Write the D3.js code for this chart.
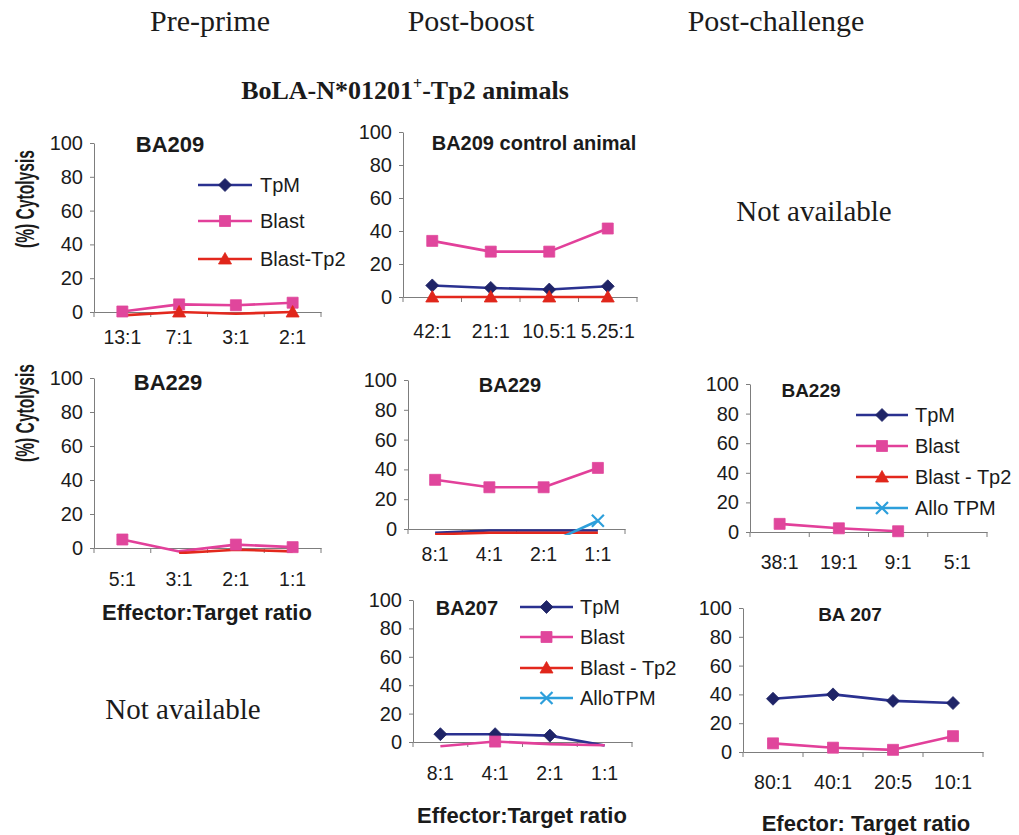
<!DOCTYPE html>
<html>
<head>
<meta charset="utf-8">
<script src="https://cdn.jsdelivr.net/npm/d3@7"></script>
<style>
  body { margin: 0; background: #ffffff; }
  svg { display: block; }
</style>
</head>
<body>
<svg id="chart" width="1019" height="835"></svg>
<script>
// ---------- data (% cytolysis per effector:target ratio) ----------
const yTicks = [0, 20, 40, 60, 80, 100];

// Pre-prime, BA209
const prePrimeBA209Ratios   = ["13:1", "7:1", "3:1", "2:1"];
const prePrimeBA209Blast    = [0.3, 4.5, 4, 5.5];
const prePrimeBA209BlastTp2 = [-2, 0, -1, 0];

// Post-boost, BA209 control animal
const postBoostBA209Ratios   = ["42:1", "21:1", "10.5:1", "5.25:1"];
const postBoostBA209TpM      = [7, 5.5, 4.5, 6.5];
const postBoostBA209Blast    = [34, 27.5, 27.5, 41.5];
const postBoostBA209BlastTp2 = [0, 0, 0, 0];

// Pre-prime, BA229
const prePrimeBA229Ratios   = ["5:1", "3:1", "2:1", "1:1"];
const prePrimeBA229Blast    = [5, -2, 2, 0.5];
const prePrimeBA229BlastTp2 = [null, -3, -1, -2];

// Post-boost, BA229
const postBoostBA229Ratios   = ["8:1", "4:1", "2:1", "1:1"];
const postBoostBA229TpM      = [-2.5, -1, -1, -1];
const postBoostBA229Blast    = [33, 28, 28, 41];
const postBoostBA229BlastTp2 = [-3.5, -2.5, -2.5, -2.5];
const postBoostBA229AlloTPM  = [null, null, -11, 5.5];

// Post-boost, BA207
const postBoostBA207Ratios = ["8:1", "4:1", "2:1", "1:1"];
const postBoostBA207TpM    = [5.5, 5.5, 4.5, -2.5];
const postBoostBA207Blast  = [-3, 0.3, -1.5, -2.3];

// Post-challenge, BA229
const postChallengeBA229Ratios = ["38:1", "19:1", "9:1", "5:1"];
const postChallengeBA229Blast  = [5.5, 2.5, 0.5, null];

// Post-challenge, BA 207
const postChallengeBA207Ratios = ["80:1", "40:1", "20:5", "10:1"];
const postChallengeBA207TpM    = [37, 40, 35.5, 34];
const postChallengeBA207Blast  = [6, 3, 1.5, 11];

// Legend labels
const legendLabelsA = ["TpM", "Blast", "Blast-Tp2"];
const legendLabelsB = ["TpM", "Blast", "Blast - Tp2", "AlloTPM"];
const legendLabelsC = ["TpM", "Blast", "Blast - Tp2", "Allo TPM"];
const legendKinds   = ["tpm", "blast", "tp2", "allo"];

// Column headings
const columnHeadings = ["Pre-prime", "Post-boost", "Post-challenge"];

// ---------- styles ----------
const style = {
  tpm:   { line: "#2a3190", fill: "#1f2467", shape: "diamond" },
  blast: { line: "#e2409a", fill: "#e0469c", shape: "square" },
  tp2:   { line: "#e3281d", fill: "#e0261b", shape: "triangle" },
  allo:  { line: "#2d9fdb", fill: "#2d9fdb", shape: "cross" }
};
const SANS = "'Liberation Sans', Arial, sans-serif";
const SERIF = "'Liberation Serif', 'Times New Roman', serif";
const AXIS = "#7d7d7d";
const INK = "#1b1b1b";

// ---------- panels ----------
const panels = [
  { id: "p1", ratios: prePrimeBA209Ratios, title: "BA209",
    series: [["blast", prePrimeBA209Blast], ["tp2", prePrimeBA209BlastTp2]],
    box: { x0: 94, x1: 321, yTop: 143, yBot: 312 }, tickPad: 19,
    titlePos: [170, 144, 22],
    legend: { labels: legendLabelsA, lx0: 198, lx1: 252, tx: 260, rows: [185, 221, 259] } },
  { id: "p2", ratios: postBoostBA209Ratios, title: "BA209 control animal",
    series: [["tpm", postBoostBA209TpM], ["blast", postBoostBA209Blast], ["tp2", postBoostBA209BlastTp2]],
    box: { x0: 403, x1: 637, yTop: 132, yBot: 297 }, tickPad: 28,
    titlePos: [534, 143, 20] },
  { id: "p3", ratios: prePrimeBA229Ratios, title: "BA229",
    series: [["blast", prePrimeBA229Blast], ["tp2", prePrimeBA229BlastTp2]],
    box: { x0: 94, x1: 321, yTop: 378, yBot: 548 }, tickPad: 25,
    titlePos: [168, 382, 22],
    xTitle: ["Effector:Target ratio", 207, 612] },
  { id: "p4", ratios: postBoostBA229Ratios, title: "BA229",
    series: [["tpm", postBoostBA229TpM], ["blast", postBoostBA229Blast],
             ["tp2", postBoostBA229BlastTp2], ["allo", postBoostBA229AlloTPM]],
    box: { x0: 408, x1: 625, yTop: 380, yBot: 529 }, tickPad: 19,
    titlePos: [510, 385, 20] },
  { id: "p5", ratios: postBoostBA207Ratios, title: "BA207",
    series: [["tpm", postBoostBA207TpM], ["blast", postBoostBA207Blast]],
    box: { x0: 413, x1: 632, yTop: 600, yBot: 742 }, tickPad: 25,
    titlePos: [467, 608, 20],
    xTitle: ["Effector:Target ratio", 522, 815],
    legend: { labels: legendLabelsB, lx0: 520, lx1: 573, tx: 580, rows: [607, 637, 668, 698] } },
  { id: "p6", ratios: postChallengeBA229Ratios, title: "BA229",
    series: [["blast", postChallengeBA229Blast]],
    box: { x0: 750, x1: 987, yTop: 384, yBot: 532 }, tickPad: 24,
    titlePos: [811, 390, 19],
    legend: { labels: legendLabelsC, lx0: 856, lx1: 908, tx: 915, rows: [415, 446, 477, 508] } },
  { id: "p7", ratios: postChallengeBA207Ratios, title: "BA 207",
    series: [["tpm", postChallengeBA207TpM], ["blast", postChallengeBA207Blast]],
    box: { x0: 743, x1: 983, yTop: 608, yBot: 752 }, tickPad: 24,
    titlePos: [850, 614, 19],
    xTitle: ["Efector: Target ratio", 866, 823] }
];

const svg = d3.select("#chart");
const defs = svg.append("defs");

// marker shapes centred on (0,0)
function markerPath(shape) {
  switch (shape) {
    case "diamond":  return "M0,-6.5L6.5,0L0,6.5L-6.5,0Z";
    case "square":   return "M-5.5,-5.5H5.5V5.5H-5.5Z";
    case "triangle": return "M0,-6.5L6.5,5L-6.5,5Z";
    case "cross":    return "M-6,-6L6,6M6,-6L-6,6";
  }
}
function drawMarker(g, kind, cx, cy) {
  const s = style[kind];
  const p = g.append("path")
    .attr("d", markerPath(s.shape))
    .attr("transform", `translate(${cx},${cy})`);
  if (s.shape === "cross") {
    p.attr("fill", "none").attr("stroke", s.line).attr("stroke-width", 2.2);
  } else {
    p.attr("fill", s.fill).attr("stroke", s.fill).attr("stroke-width", 0.8);
  }
}

panels.forEach(p => {
  const { x0, x1, yTop, yBot } = p.box;
  const g = svg.append("g").attr("class", "panel " + p.id);

  const x = d3.scaleBand().domain(p.ratios).range([x0, x1]);
  const y = d3.scaleLinear().domain([0, 100]).range([yBot, yTop]);

  // y axis
  const yAx = g.append("g")
    .attr("transform", `translate(${x0},0)`)
    .call(d3.axisLeft(y).tickValues(yTicks).tickSize(4).tickSizeOuter(0).tickPadding(7));
  yAx.select(".domain").attr("stroke", AXIS);
  yAx.selectAll(".tick line").attr("stroke", AXIS);
  yAx.selectAll("text").attr("font-family", SANS).attr("font-size", 20).attr("fill", INK);

  // x axis: baseline, category labels, boundary ticks
  const xAx = g.append("g")
    .attr("transform", `translate(0,${yBot})`)
    .call(d3.axisBottom(x).tickSize(0).tickSizeOuter(0).tickPadding(p.tickPad - 1));
  xAx.select(".domain").attr("stroke", AXIS);
  xAx.selectAll("text").attr("font-family", SANS).attr("font-size", 19.5).attr("fill", INK);
  const bounds = d3.range(p.ratios.length + 1).map(i => x0 + i * x.step());
  xAx.selectAll(".bound").data(bounds).join("line")
    .attr("class", "bound")
    .attr("x1", d => d).attr("x2", d => d)
    .attr("y1", 0).attr("y2", 5)
    .attr("stroke", AXIS);

  // plot-area clip (a few pixels below the zero line stay visible)
  defs.append("clipPath").attr("id", "clip-" + p.id)
    .append("rect")
    .attr("x", x0).attr("y", yTop - 20)
    .attr("width", x1 - x0).attr("height", yBot - yTop + 26);

  const plot = g.append("g").attr("clip-path", `url(#clip-${p.id})`);
  const line = d3.line()
    .defined(d => d.v != null)
    .x(d => x(d.r) + x.bandwidth() / 2)
    .y(d => y(d.v));

  p.series.forEach(([kind, values]) => {
    const pts = p.ratios.map((r, i) => ({ r, v: values[i] }));
    plot.append("path")
      .datum(pts)
      .attr("d", line)
      .attr("fill", "none")
      .attr("stroke", style[kind].line)
      .attr("stroke-width", 2.6)
      .attr("stroke-linejoin", "round");
    pts.filter(d => d.v != null && d.v >= 0)
      .forEach(d => drawMarker(g, kind, x(d.r) + x.bandwidth() / 2, y(d.v)));
  });

  // panel title
  const [tx, ty, ts] = p.titlePos;
  g.append("text")
    .attr("x", tx).attr("y", ty + ts * 0.36)
    .attr("text-anchor", "middle")
    .attr("font-family", SANS).attr("font-weight", "bold")
    .attr("font-size", ts).attr("fill", INK)
    .text(p.title);

  // x axis title
  if (p.xTitle) {
    const [label, cx, cy] = p.xTitle;
    g.append("text")
      .attr("x", cx).attr("y", cy + 8)
      .attr("text-anchor", "middle")
      .attr("font-family", SANS).attr("font-weight", "bold")
      .attr("font-size", 22).attr("fill", INK)
      .text(label);
  }

  // legend
  if (p.legend) {
    const L = p.legend;
    L.labels.forEach((label, i) => {
      const kind = legendKinds[i];
      const ry = L.rows[i];
      g.append("line")
        .attr("x1", L.lx0).attr("x2", L.lx1)
        .attr("y1", ry).attr("y2", ry)
        .attr("stroke", style[kind].line).attr("stroke-width", 2.6);
      drawMarker(g, kind, (L.lx0 + L.lx1) / 2, ry);
      g.append("text")
        .attr("x", L.tx).attr("y", ry + 7)
        .attr("font-family", SANS).attr("font-size", 20).attr("fill", INK)
        .text(label);
    });
  }
});

// y axis titles
[199, 413].forEach(cy => {
  svg.append("text")
    .attr("transform", `translate(34,${cy}) rotate(-90)`)
    .attr("text-anchor", "middle")
    .attr("font-family", SANS).attr("font-weight", "bold")
    .attr("font-size", 25).attr("fill", INK)
    .attr("textLength", 98).attr("lengthAdjust", "spacingAndGlyphs")
    .text("(%) Cytolysis");
});

// column headings
const headingX = [210, 471, 776];
columnHeadings.forEach((h, i) => {
  svg.append("text")
    .attr("x", headingX[i]).attr("y", 31)
    .attr("text-anchor", "middle")
    .attr("font-family", SERIF).attr("font-size", 30).attr("fill", INK)
    .text(h);
});

// group heading
const grp = svg.append("text")
  .attr("x", 405).attr("y", 99)
  .attr("text-anchor", "middle")
  .attr("font-family", SERIF).attr("font-weight", "bold")
  .attr("font-size", 26).attr("fill", INK);
grp.append("tspan").text("BoLA-N*01201");
grp.append("tspan").attr("dy", -10).attr("font-size", 16).text("+");
grp.append("tspan").attr("dy", 10).text("-Tp2 animals");

// unavailable time points
[[814, 221], [183, 719]].forEach(([cx, by]) => {
  svg.append("text")
    .attr("x", cx).attr("y", by)
    .attr("text-anchor", "middle")
    .attr("font-family", SERIF).attr("font-size", 29).attr("fill", INK)
    .text("Not available");
});
</script>
</body>
</html>
